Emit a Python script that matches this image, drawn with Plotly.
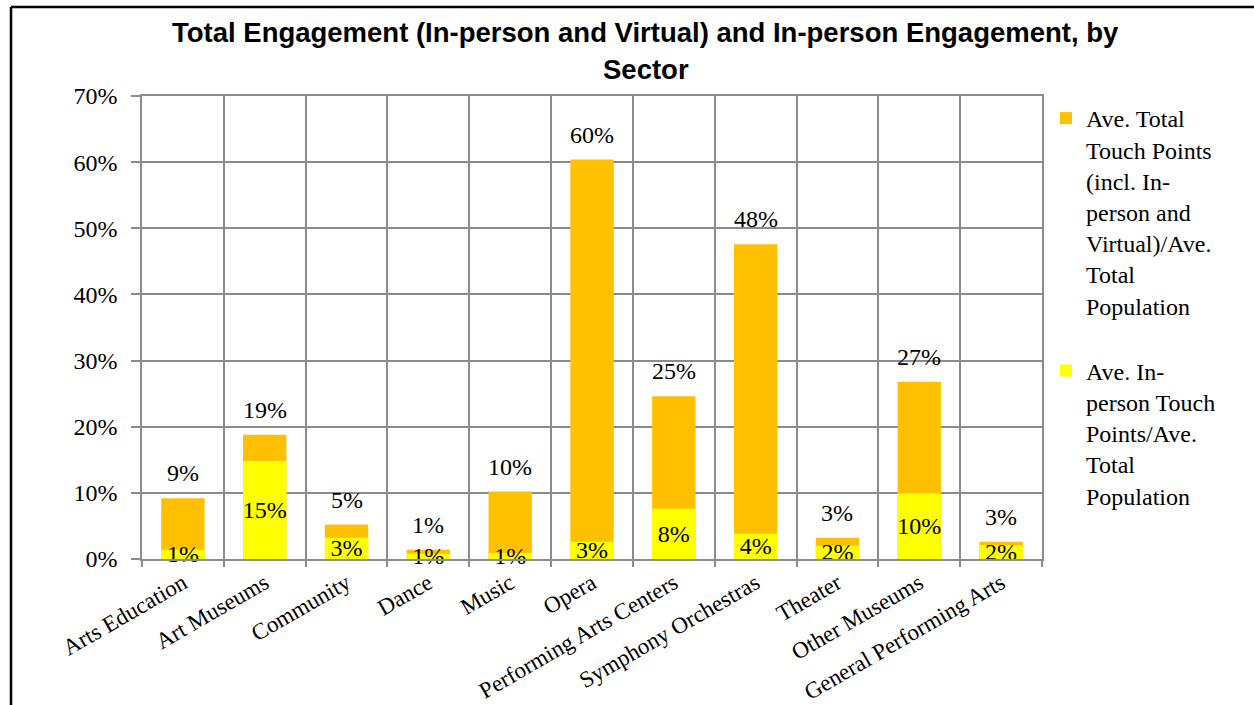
import plotly.graph_objects as go

# Sector categories and engagement ratios (share of average total population)
sectors = [
    "Arts Education", "Art Museums", "Community", "Dance", "Music", "Opera",
    "Performing Arts Centers", "Symphony Orchestras", "Theater",
    "Other Museums", "General Performing Arts",
]
total_touch = [0.092, 0.188, 0.052, 0.014, 0.102, 0.604, 0.246, 0.476, 0.032, 0.268, 0.026]
inperson_touch = [0.014, 0.148, 0.032, 0.008, 0.009, 0.026, 0.076, 0.038, 0.020, 0.099, 0.021]

total_name = "Ave. Total<br>Touch Points<br>(incl. In-<br>person and<br>Virtual)/Ave.<br>Total<br>Population"
inperson_name = "Ave. In-<br>person Touch<br>Points/Ave.<br>Total<br>Population"

SERIF = "Liberation Serif"
GRID = "#8c8c8c"
LABEL_FONT = dict(family=SERIF, size=24, color="black")

fig = go.Figure()

fig.add_trace(go.Bar(
    x=sectors, y=total_touch, name=total_name, legendgroup="total",
    marker=dict(color="#FFC000", line=dict(width=0)),
    width=0.53,
))
fig.add_trace(go.Bar(
    x=sectors, y=inperson_touch, name=inperson_name, legendgroup="inperson",
    marker=dict(color="#FFFF00", line=dict(width=0)),
    width=0.53,
    texttemplate="%{y:.0%}", textposition="inside", insidetextanchor="middle",
    textangle=0, constraintext="none",
    textfont=LABEL_FONT,
    cliponaxis=False,
))

W, H = 1254, 705
L, R, T, B = 142, 212, 96, 146
pw, ph = W - L - R, H - T - B


def px_x(p):
    return (p - L) / pw


def px_y(p):
    return (H - B - p) / ph


TITLE_FONT = dict(family="Liberation Sans", size=27.5, color="black")

# value labels sitting just above each total bar
total_labels = [
    dict(x=s, y=v, xref="x", yref="y", text=f"{v:.0%}", showarrow=False,
         xanchor="center", yanchor="bottom", yshift=10, font=LABEL_FONT)
    for s, v in zip(sectors, total_touch)
]

title_lines = [
    dict(text="<b>Total Engagement (In-person and Virtual) and In-person Engagement, by</b>",
         xref="paper", yref="paper", x=px_x(645), y=px_y(32),
         xanchor="center", yanchor="middle", showarrow=False, font=TITLE_FONT),
    dict(text="<b>Sector</b>",
         xref="paper", yref="paper", x=px_x(646), y=px_y(70),
         xanchor="center", yanchor="middle", showarrow=False, font=TITLE_FONT),
]

fig.update_layout(
    width=W, height=H,
    margin=dict(l=L, r=R, t=T, b=B, autoexpand=False),
    paper_bgcolor="white", plot_bgcolor="white",
    barmode="overlay",
    showlegend=True,
    legend=dict(
        x=px_x(1046), xanchor="left", y=1, yanchor="top",
        font=dict(family=SERIF, size=24, color="black"),
        valign="top", tracegroupgap=31, itemwidth=30,
        bgcolor="rgba(0,0,0,0)",
    ),
    xaxis=dict(
        type="category", tickson="boundaries", ticks="outside", ticklen=6,
        tickcolor=GRID, tickwidth=1.5, automargin=False,
        showgrid=True, gridcolor=GRID, gridwidth=1.5,
        showline=True, linecolor=GRID, linewidth=1.5, mirror=True,
        tickangle=-30,
        tickfont=dict(family=SERIF, size=23, color="black"),
    ),
    yaxis=dict(
        range=[0, 0.7], dtick=0.1, tickformat=".0%",
        ticks="outside", ticklen=9, tickcolor=GRID, tickwidth=1.5,
        ticklabelstandoff=9, automargin=False,
        showgrid=True, gridcolor=GRID, gridwidth=1.5,
        showline=True, linecolor=GRID, linewidth=1.5, mirror=True,
        zeroline=False,
        tickfont=dict(family=SERIF, size=24, color="black"),
    ),
    shapes=[
        # chart frame (left and top edges)
        dict(type="line", xref="paper", yref="paper",
             x0=px_x(11), x1=px_x(11), y0=px_y(7), y1=px_y(712),
             line=dict(color="black", width=2.5)),
        dict(type="line", xref="paper", yref="paper",
             x0=px_x(11), x1=px_x(1260), y0=px_y(7), y1=px_y(7),
             line=dict(color="black", width=2.5)),
    ],
    annotations=title_lines + total_labels,
)

fig.write_html("out.html")
